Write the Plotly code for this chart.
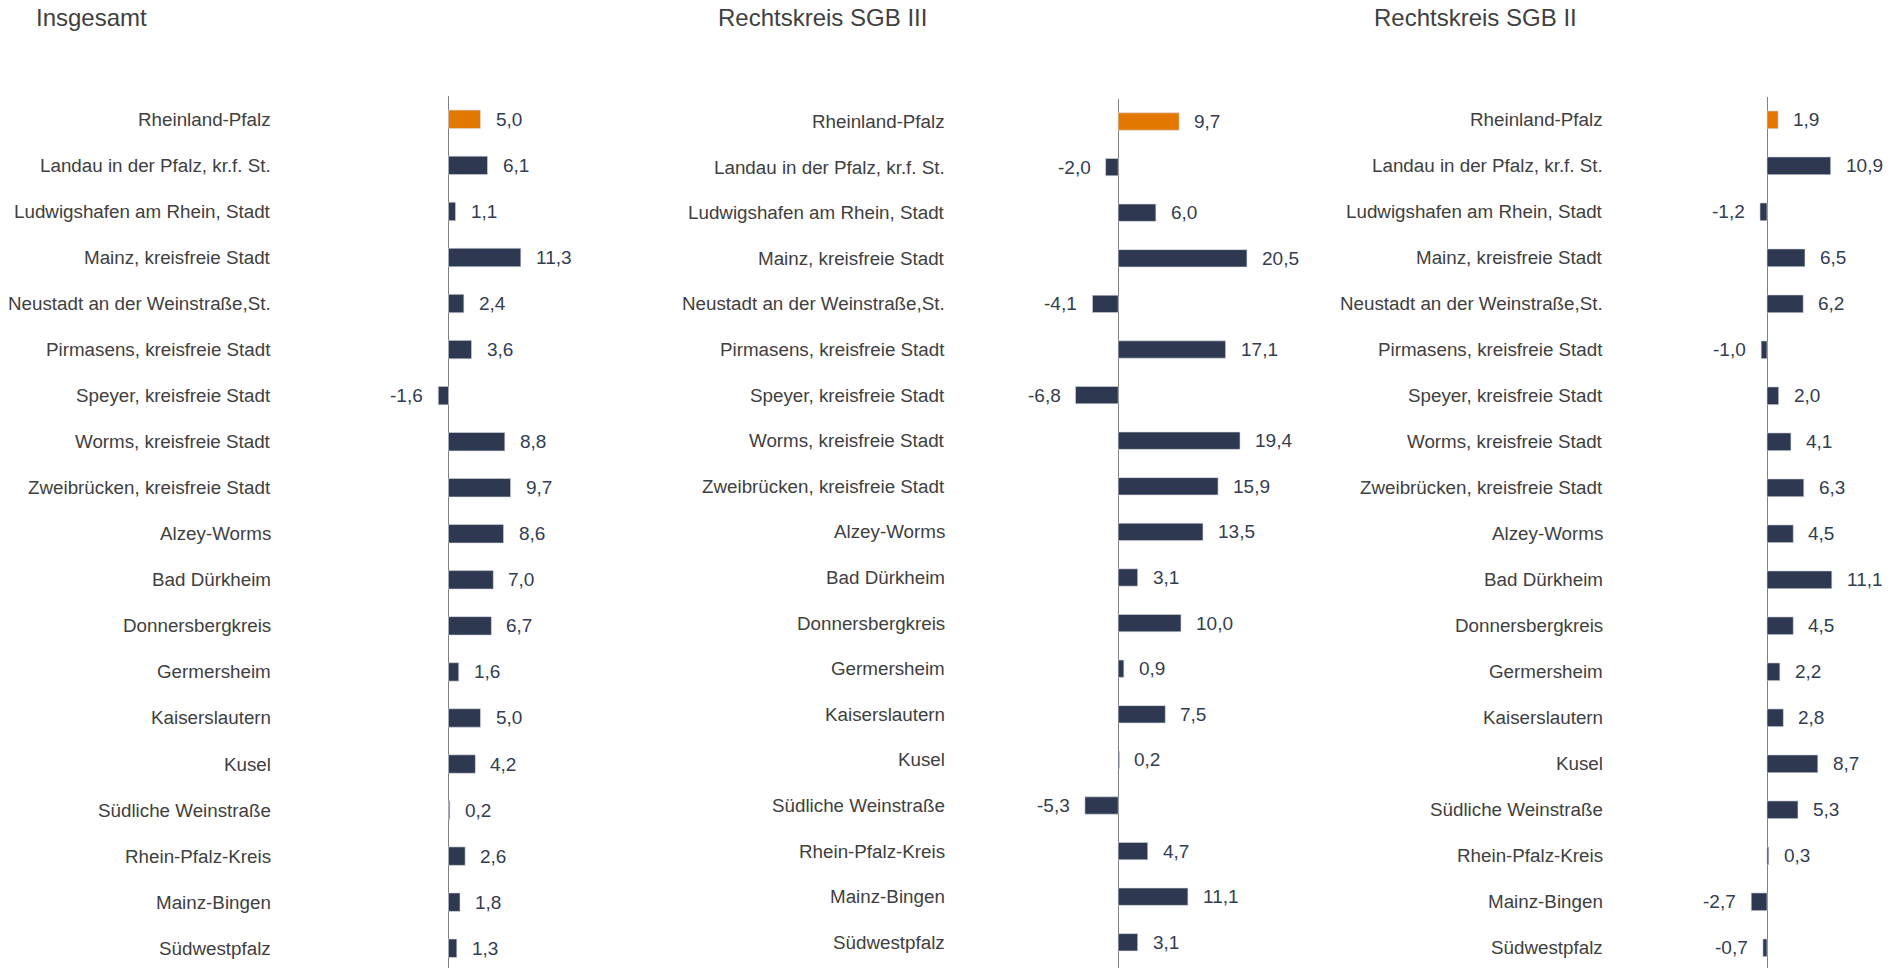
import plotly.graph_objects as go

# Regions (rows top to bottom)
regions = [
    "Rheinland-Pfalz",
    "Landau in der Pfalz, kr.f. St.",
    "Ludwigshafen am Rhein, Stadt",
    "Mainz, kreisfreie Stadt",
    "Neustadt an der Weinstraße,St.",
    "Pirmasens, kreisfreie Stadt",
    "Speyer, kreisfreie Stadt",
    "Worms, kreisfreie Stadt",
    "Zweibrücken, kreisfreie Stadt",
    "Alzey-Worms",
    "Bad Dürkheim",
    "Donnersbergkreis",
    "Germersheim",
    "Kaiserslautern",
    "Kusel",
    "Südliche Weinstraße",
    "Rhein-Pfalz-Kreis",
    "Mainz-Bingen",
    "Südwestpfalz",
]

# Change in percent per panel
insgesamt = [5.0, 6.1, 1.1, 11.3, 2.4, 3.6, -1.6, 8.8, 9.7, 8.6, 7.0, 6.7, 1.6, 5.0, 4.2, 0.2, 2.6, 1.8, 1.3]
sgb_iii = [9.7, -2.0, 6.0, 20.5, -4.1, 17.1, -6.8, 19.4, 15.9, 13.5, 3.1, 10.0, 0.9, 7.5, 0.2, -5.3, 4.7, 11.1, 3.1]
sgb_ii = [1.9, 10.9, -1.2, 6.5, 6.2, -1.0, 2.0, 4.1, 6.3, 4.5, 11.1, 4.5, 2.2, 2.8, 8.7, 5.3, 0.3, -2.7, -0.7]

panel_titles = ["Insgesamt", "Rechtskreis SGB III", "Rechtskreis SGB II"]

W, H = 1892, 968
FONT = "Liberation Sans, Arial, sans-serif"
NAVY = "#2E3850"
ORANGE = "#E37800"
LABEL_GREY = "#404040"
VALUE_COL = "#333D51"

# Per-panel layout in pixels: plot area left/right, zero position, px per unit,
# top of the axis line, row pitch, label right edge, title left, bar width
panels = [
    dict(values=insgesamt, left=300, right=600, zero=448.5, scale=6.4,
         top=96.3, pitch=46.05, label_right=273, title_x=34, bw=0.40),
    dict(values=sgb_iii, left=980, right=1300, zero=1118.2, scale=6.28,
         top=98.7, pitch=45.6, label_right=947, title_x=716, bw=0.38),
    dict(values=sgb_ii, left=1640, right=1892, zero=1767.0, scale=5.84,
         top=96.8, pitch=46.0, label_right=1604.5, title_x=1372, bw=0.385),
]


def fmt(v):
    return f"{v:.1f}".replace(".", ",")


fig = go.Figure()
annotations = []
layout_axes = {}

for i, p in enumerate(panels, start=1):
    xa = "x" if i == 1 else f"x{i}"
    ya = "y" if i == 1 else f"y{i}"
    xkey = "xaxis" if i == 1 else f"xaxis{i}"
    ykey = "yaxis" if i == 1 else f"yaxis{i}"

    colors = [ORANGE if r == "Rheinland-Pfalz" else NAVY for r in regions]
    fig.add_trace(go.Bar(
        x=p["values"], y=regions, orientation="h",
        xaxis=xa, yaxis=ya, width=p["bw"],
        marker=dict(color=colors, line=dict(color="#d6dae0", width=0.6)),
        hoverinfo="x+y", showlegend=False,
    ))

    r0 = (p["left"] - p["zero"]) / p["scale"]
    r1 = (p["right"] - p["zero"]) / p["scale"]
    layout_axes[xkey] = dict(
        domain=[p["left"] / W, p["right"] / W], range=[r0, r1],
        showgrid=False, showticklabels=False, ticks="",
        zeroline=True, zerolinecolor="#808080", zerolinewidth=1.2,
        showline=False, anchor=ya, fixedrange=True,
    )
    y_bottom = -0.5 + (H - p["top"]) / p["pitch"]
    layout_axes[ykey] = dict(
        domain=[0, 1 - p["top"] / H], range=[y_bottom, -0.5],
        type="category", categoryorder="array", categoryarray=regions,
        showgrid=False, showticklabels=False, ticks="", zeroline=False,
        showline=False, anchor=xa, fixedrange=True,
    )

    # Region names, right-aligned left of the plot area
    for r in regions:
        annotations.append(dict(
            x=p["label_right"] / W, xref="paper", xanchor="right",
            y=r, yref=ya, yanchor="middle",
            text=r, showarrow=False,
            font=dict(family=FONT, size=18.8, color=LABEL_GREY),
        ))

    # Value labels beside each bar
    for r, v in zip(regions, p["values"]):
        pos = v >= 0
        annotations.append(dict(
            x=v, xref=xa, y=r, yref=ya,
            xanchor="left" if pos else "right", yanchor="middle",
            xshift=13 if pos else -13,
            text=fmt(v), showarrow=False,
            font=dict(family=FONT, size=19, color=VALUE_COL),
        ))

    # Panel title
    annotations.append(dict(
        x=p["title_x"] / W, xref="paper", xanchor="left",
        y=1 - 18 / H, yref="paper", yanchor="middle",
        text=panel_titles[i - 1], showarrow=False,
        font=dict(family=FONT, size=24, color=LABEL_GREY),
    ))

fig.update_layout(
    width=W, height=H,
    margin=dict(l=0, r=0, t=0, b=0),
    paper_bgcolor="white", plot_bgcolor="white",
    font=dict(family=FONT),
    annotations=annotations,
    bargap=0.6,
    **layout_axes,
)

fig.write_html("out.html")
